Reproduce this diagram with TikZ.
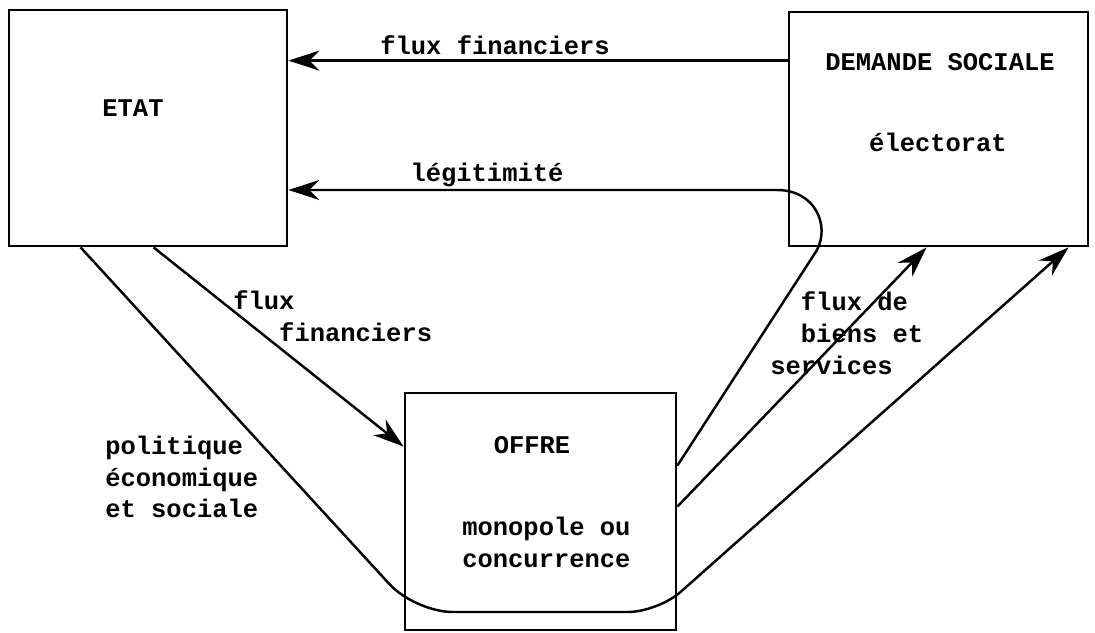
\documentclass[tikz,border=0pt]{standalone}
\usepackage{fontspec}
\setmonofont{Liberation Mono}
\usetikzlibrary{arrows.meta, positioning, calc}

\begin{document}
\begin{tikzpicture}[x=0.02cm, y=-0.02cm,
    bloc/.style={draw, line width=1.6pt, inner sep=0pt},
    texte/.style={font=\ttfamily\bfseries\fontsize{14.5}{18.1}\selectfont, inner sep=0pt, align=left},
    fleche/.style={line width=1.4pt, -{Stealth[length=0.62cm, width=0.4cm, inset=0.2cm]}}]
                \useasboundingbox (0,0) rectangle (1095,632);
                \node[bloc, minimum width=5.56cm, minimum height=4.72cm] (etat) at (148,128) {};
                \node[bloc, minimum width=5.98cm, minimum height=4.68cm] (demande) at (938.5,129) {};
                \node[bloc, minimum width=5.42cm, minimum height=4.74cm] (offre) at (540.5,511.5) {};
                \node[texte] (etatT) at (133,108) {ETAT};
                \node[texte] (demandeT) at (940,62) {DEMANDE SOCIALE};
                \node[texte] (electorat) at (938,142) {électorat};
                \node[texte] (offreT) at (532,445) {OFFRE};
                \node[texte, anchor=west] (monopole) at (462,542) {monopole ou\\concurrence};
                \node[texte] (fluxHaut) at (495,45) {flux financiers};
                \node[texte] (legitimite) at (487,175) {légitimité};
                \node[texte, anchor=west] (fluxDiag) at (233,316) {flux\\\hphantom{xxx}financiers};
                \node[texte, anchor=west] (politique) at (105,477) {politique\\économique\\et sociale};
                \node[texte, anchor=west] (biens) at (770,333) {\hphantom{xx}flux de\\\hphantom{xx}biens et\\services};
                % demande -> etat
                \coordinate (fluxD) at ([yshift=-1cm]demande.north west);
                \draw[fleche] (fluxD) -- (fluxD -| etat.east);
                % offre -> etat, en passant par le coin de la demande
                \coordinate (legO) at ([yshift=-1.48cm]offre.north east);
                \coordinate (legH) at (777,190);
                \draw[fleche] (legO) -- (817,250) .. controls (830,225) and (815,190) .. (legH) -- (legH -| etat.east);
                % etat -> offre
                \draw[fleche] ([xshift=2.92cm]etat.south west) -- ([yshift=-1.1cm]offre.north west);
                % offre -> demande
                \draw[fleche] ([yshift=-2.3cm]offre.north east) -- ([xshift=2.78cm]demande.south west);
                \draw[fleche, rounded corners=0.75cm] ([xshift=1.46cm]etat.south west) -- (415,612) [rounded corners=0.6cm] -- (658,612) -- ([xshift=5.62cm]demande.south west);
            \end{tikzpicture}
\end{document}
